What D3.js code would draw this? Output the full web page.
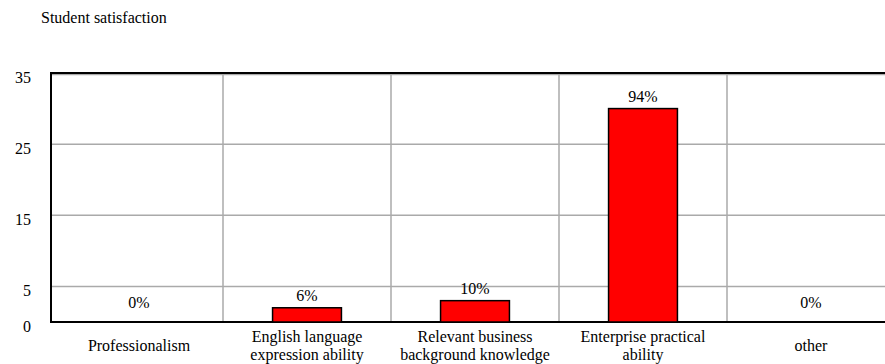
<!DOCTYPE html>
<html>
<head>
<meta charset="utf-8">
<script src="https://cdn.jsdelivr.net/npm/d3@7"></script>
<style>
  body { margin: 0; background: #fff; }
</style>
</head>
<body>
<svg id="chart" width="885" height="364" font-family="'Liberation Serif', 'Times New Roman', Times, serif"></svg>
<script>
// chart data
var categories = [
    ["Professionalism"],
    ["English language", "expression ability"],
    ["Relevant business", "background knowledge"],
    ["Enterprise practical", "ability"],
    ["other"]
];
var counts = [0, 2, 3, 30, 0];
var percentLabels = ["0%", "6%", "10%", "94%", "0%"];
var yTicks = [0, 5, 15, 25, 35];

var svg = d3.select("#chart");
var plotLeft = 51, plotTop = 73, plotBottom = 322, plotRight = 895;

var x = d3.scaleBand()
    .domain(d3.range(categories.length))
    .range([55, plotRight])
    .paddingInner(0.59)
    .paddingOuter(0.295);

var y = d3.scaleLinear().domain([0, 35]).range([plotBottom, plotTop]);

// title
svg.append("text")
    .attr("x", 41).attr("y", 23)
    .style("font-size", "16px")
    .text("Student satisfaction");

// horizontal grid
svg.append("g").selectAll("line")
    .data(yTicks.filter(function(d) { return d > 0; }))
    .join("line")
    .attr("x1", plotLeft).attr("x2", 885)
    .attr("y1", function(d) { return y(d) + (d == 35 ? 1.5 : 0); })
    .attr("y2", function(d) { return y(d) + (d == 35 ? 1.5 : 0); })
    .style("stroke", "#aaa")
    .style("stroke-width", 1.5);

// vertical grid at band boundaries
svg.append("g").selectAll("line")
    .data(d3.range(1, categories.length))
    .join("line")
    .attr("x1", function(i) { return x(i) - x.step() * x.paddingInner() / 2; })
    .attr("x2", function(i) { return x(i) - x.step() * x.paddingInner() / 2; })
    .attr("y1", plotTop).attr("y2", plotBottom)
    .style("stroke", "#aaa")
    .style("stroke-width", 1.5);

// frame
svg.append("line").attr("x1", plotLeft).attr("x2", 885).attr("y1", plotTop).attr("y2", plotTop)
    .style("stroke", "#000").style("stroke-width", 2);
svg.append("line").attr("x1", plotLeft).attr("x2", 885).attr("y1", plotBottom).attr("y2", plotBottom)
    .style("stroke", "#000").style("stroke-width", 2);
svg.append("line").attr("x1", plotLeft).attr("x2", plotLeft).attr("y1", plotTop - 1).attr("y2", plotBottom + 1)
    .style("stroke", "#000").style("stroke-width", 2);

// y tick labels
svg.append("g").selectAll("text")
    .data(yTicks)
    .join("text")
    .attr("x", 31)
    .attr("y", function(d) { return y(d) + 10; })
    .attr("text-anchor", "end")
    .style("font-size", "16px")
    .text(function(d) { return d; });

// bars
svg.append("g").selectAll("rect")
    .data(counts.map(function(v, i) { return {v: v, i: i}; }).filter(function(d) { return d.v > 0; }))
    .join("rect")
    .attr("x", function(d) { return x(d.i); })
    .attr("width", x.bandwidth())
    .attr("y", function(d) { return y(d.v); })
    .attr("height", function(d) { return plotBottom - y(d.v); })
    .style("fill", "#ff0000")
    .style("stroke", "#000")
    .style("stroke-width", 1.5);

// value labels
svg.append("g").selectAll("text")
    .data(counts)
    .join("text")
    .attr("x", function(d, i) { return x(i) + x.bandwidth() / 2; })
    .attr("y", function(d) { return y(d) - (d == 0 ? 14 : 7); })
    .attr("text-anchor", "middle")
    .style("font-size", "16px")
    .text(function(d, i) { return percentLabels[i]; });

// category labels
var cat = svg.append("g").selectAll("text")
    .data(categories)
    .join("text")
    .attr("text-anchor", "middle")
    .style("font-size", "16px")
    .attr("transform", function(d, i) {
        var cy = d.length > 1 ? 342 : 351;
        return "translate(" + (x(i) + x.bandwidth() / 2) + "," + cy + ")";
    });
cat.selectAll("tspan")
    .data(function(d) { return d; })
    .join("tspan")
    .attr("x", 0)
    .attr("dy", function(d, j) { return j == 0 ? 0 : 18; })
    .text(function(d) { return d; });
</script>
</body>
</html>
